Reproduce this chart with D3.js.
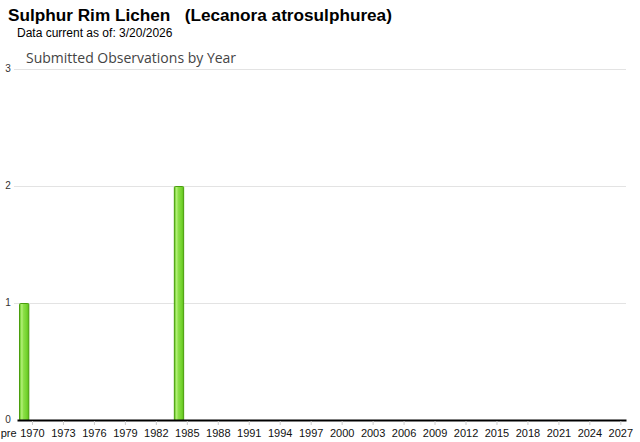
<!DOCTYPE html>
<html><head><meta charset="utf-8">
<script src="https://cdn.jsdelivr.net/npm/d3@7"></script>
<style>body{margin:0;background:#fff}svg{display:block}</style>
</head><body>
<script>
const titleText = "Sulphur Rim Lichen   (Lecanora atrosulphurea)";
const subtitleText = "Data current as of: 3/20/2026";
const chartTitle = "Submitted Observations by Year";
const categories = ["pre"].concat(d3.range(1970, 2028).map(String));
const obsCategories = ["pre", "1984"];
const obsValues = [1, 2];
const yTicks = [0, 1, 2, 3];
const labelEvery = 3;

const W = 640, H = 442;
const m = {left: 17, right: 14, top: 69, bottom: 22};
const svg = d3.select("body").append("svg").attr("width", W).attr("height", H);

const x = d3.scaleBand().domain(categories).range([m.left, W - m.right]).paddingInner(0).paddingOuter(0);
const y = d3.scaleLinear().domain([0, 3]).range([H - m.bottom, m.top]);

const defs = svg.append("defs");
const g = defs.append("linearGradient").attr("id", "barg").attr("x1", "0").attr("x2", "1").attr("y1", "0").attr("y2", "0");
[[0, "#5cc21a"], [0.25, "#b6f27a"], [0.4, "#8ee04a"], [0.8, "#72d22c"], [1, "#5cba18"]].forEach(([o, c]) =>
  g.append("stop").attr("offset", o).attr("stop-color", c));

svg.append("text").attr("x", 8).attr("y", 21).attr("font-family", "Liberation Sans, Arial, sans-serif")
  .attr("font-size", 17.2).attr("font-weight", "bold").attr("fill", "#000").attr("xml:space", "preserve")
  .style("white-space", "pre").text(titleText);
svg.append("text").attr("x", 17).attr("y", 37).attr("font-family", "Liberation Sans, Arial, sans-serif")
  .attr("font-size", 12).attr("fill", "#000").text(subtitleText);
svg.append("text").attr("x", 26).attr("y", 63).attr("font-family", "Open Sans, sans-serif")
  .attr("font-size", 14).attr("fill", "#444").text(chartTitle);

// gridlines
svg.append("g").selectAll("line").data(yTicks.filter(d => d > 0)).join("line")
  .attr("x1", 14).attr("x2", W - m.right).attr("y1", d => y(d) + 0.5).attr("y2", d => y(d) + 0.5)
  .attr("stroke", "#e3e3e3").attr("stroke-width", 1);

// y labels
svg.append("g").selectAll("text").data(yTicks).join("text")
  .attr("x", 8).attr("y", d => y(d) + 3).attr("text-anchor", "middle")
  .attr("font-family", "Liberation Sans, Arial, sans-serif").attr("font-size", 10).attr("fill", "#333")
  .text(d => d);

// bars
svg.append("g").selectAll("rect").data(obsCategories.map((c, i) => ({c, v: obsValues[i]}))).join("rect")
  .attr("x", d => x(d.c) + 2.5).attr("width", x.bandwidth() - 1)
  .attr("y", d => y(d.v) + 0.5).attr("height", d => y(0) - y(d.v))
  .attr("fill", "url(#barg)").attr("stroke", "#4a9e0c").attr("stroke-width", 1).attr("rx", 1);

// x axis
const xAxis = d3.axisBottom(x)
  .tickValues(categories.filter((c, i) => i === 0 || (i - 1) % labelEvery === 0))
  .tickSize(4).tickSizeOuter(0);
const ax = svg.append("g").attr("transform", `translate(0,${y(0)})`).call(xAxis);
ax.select(".domain").attr("stroke", "#000").attr("stroke-width", 2);
ax.selectAll(".tick line").attr("stroke", "#ccc").attr("transform", "translate(0,1)");
ax.selectAll(".tick text").attr("font-family", "Liberation Sans, Arial, sans-serif").attr("font-size", 11)
  .attr("fill", "#111").attr("dy", "0.95em");
ax.selectAll(".tick").filter(d => d === "pre").select("text").attr("dx", -13.5);
ax.selectAll(".tick").filter(d => d === "pre").select("line").remove();
</script>
</body></html>
